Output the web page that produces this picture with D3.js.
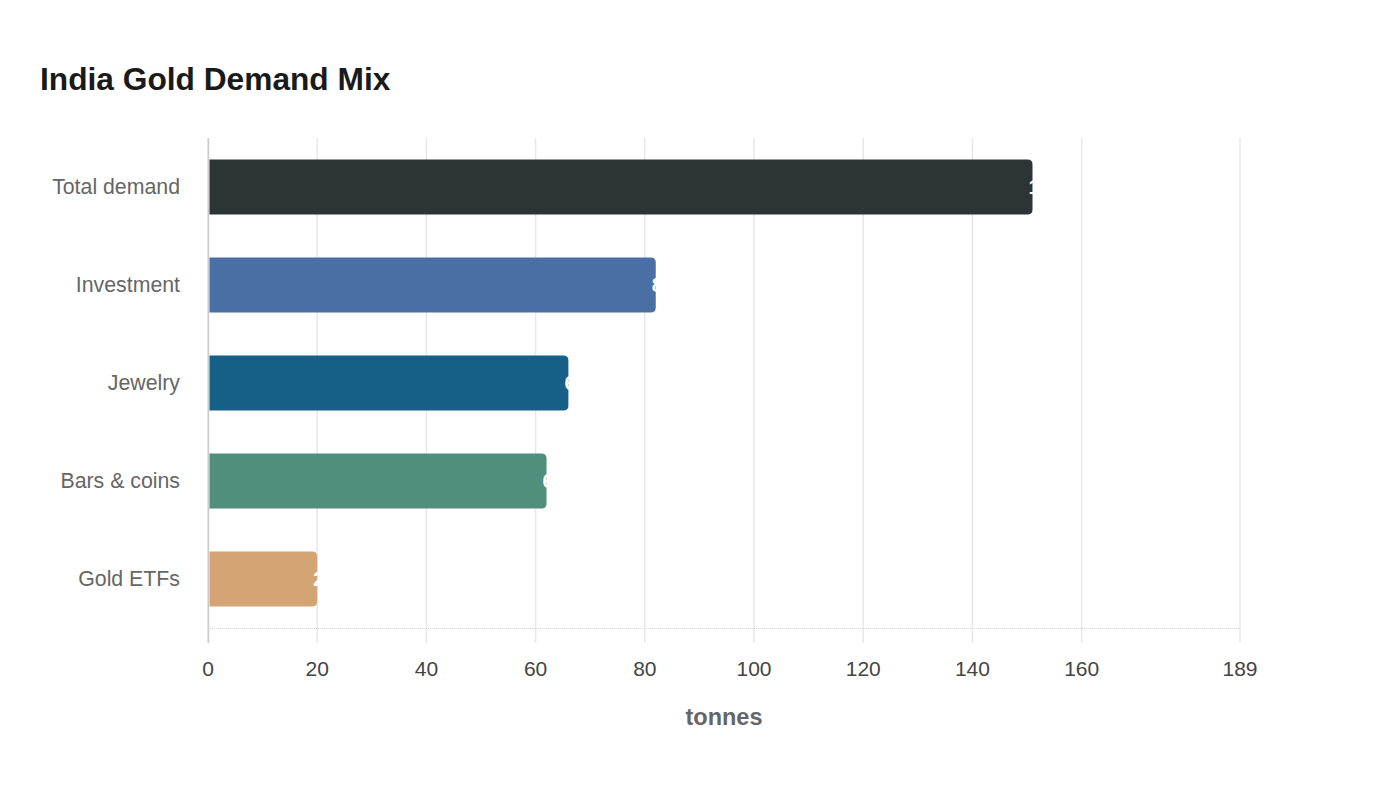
<!DOCTYPE html>
<html>
<head>
<meta charset="utf-8">
<script src="https://cdn.jsdelivr.net/npm/d3@7"></script>
<style>
    body { margin: 0; background: #fff; }
    svg { font-family: "Liberation Sans", Arial, sans-serif; }
</style>
</head>
<body>
<div id="chart"></div>
<script>
// data
const categories = ['Total demand', 'Investment', 'Jewelry', 'Bars & coins', 'Gold ETFs'];
const values = [151, 82, 66, 62, 20];
const colors = ['#2d3436', '#4a6fa5', '#166088', '#4f8f7c', '#d4a574'];
const xTicks = [0, 20, 40, 60, 80, 100, 120, 140, 160, 189];
const xMax = 189;

const width = 1400;
const height = 800;
const margin = {top: 138, right: 160, bottom: 172, left: 208};
const graphWidth = width - margin.left - margin.right;
const graphHeight = height - margin.top - margin.bottom;

const svg = d3.select('#chart').append('svg')
    .attr('width', width)
    .attr('height', height);

svg.append('text')
    .attr('x', 40)
    .attr('y', 90)
    .attr('font-size', 31.7)
    .attr('font-weight', 'bold')
    .attr('fill', '#1a1a1a')
    .text('India Gold Demand Mix');

const g = svg.append('g').attr('transform', `translate(${margin.left}, ${margin.top})`);

const xFun = d3.scaleLinear().domain([0, xMax]).range([0, graphWidth]);
const yFun = d3.scaleBand().domain(categories).range([0, graphHeight]).paddingInner(0.44).paddingOuter(0.22);

// vertical grid, running past the axis line like tick marks
g.append('g').selectAll('line')
    .data(xTicks)
    .join('line')
    .attr('x1', d => xFun(d))
    .attr('x2', d => xFun(d))
    .attr('y1', 0)
    .attr('y2', graphHeight + 15)
    .attr('stroke', '#e8e8e8')
    .attr('stroke-width', 1.5);

// bottom axis line (dotted light)
g.append('line')
    .attr('x1', 0)
    .attr('x2', graphWidth)
    .attr('y1', graphHeight + 0.5)
    .attr('y2', graphHeight + 0.5)
    .attr('stroke', '#d8d8d8')
    .attr('stroke-dasharray', '1,1');

// left axis line
g.append('line')
    .attr('x1', 0.5)
    .attr('x2', 0.5)
    .attr('y1', 0)
    .attr('y2', graphHeight + 15)
    .attr('stroke', '#cccccc')
    .attr('stroke-width', 1.5);

// x tick labels
g.append('g').selectAll('text')
    .data(xTicks)
    .join('text')
    .attr('x', d => xFun(d))
    .attr('y', graphHeight + 48)
    .attr('text-anchor', 'middle')
    .attr('font-size', 21)
    .attr('fill', '#444')
    .text(d => d);

// y category labels
g.append('g').selectAll('text')
    .data(categories)
    .join('text')
    .attr('x', -28)
    .attr('y', d => yFun(d) + yFun.bandwidth() / 2)
    .attr('dy', '0.35em')
    .attr('text-anchor', 'end')
    .attr('font-size', 21.3)
    .attr('fill', '#666')
    .text(d => d);

// bars with rounded right corners
const barPath = (x0, x1, y0, h, r) => {
    const rr = Math.min(r, (x1 - x0) / 2, h / 2);
    return `M${x0},${y0}H${x1 - rr}Q${x1},${y0} ${x1},${y0 + rr}V${y0 + h - rr}Q${x1},${y0 + h} ${x1 - rr},${y0 + h}H${x0}Z`;
};

const bars = g.append('g');
categories.forEach((cat, i) => {
    bars.append('path')
        .attr('d', barPath(1.5, xFun(values[i]), yFun(cat), yFun.bandwidth(), 5))
        .attr('fill', colors[i]);
});

// value labels (white, start at bar end)
g.append('g').selectAll('text')
    .data(categories)
    .join('text')
    .attr('x', (d, i) => xFun(values[i]) - 4)
    .attr('y', d => yFun(d) + yFun.bandwidth() / 2)
    .attr('dy', '0.35em')
    .attr('font-size', 20)
    .attr('font-weight', 'bold')
    .attr('fill', '#fff')
    .text((d, i) => values[i]);

// axis title
svg.append('text')
    .attr('x', margin.left + graphWidth / 2)
    .attr('y', 725)
    .attr('text-anchor', 'middle')
    .attr('font-size', 23.5)
    .attr('font-weight', 'bold')
    .attr('fill', '#666')
    .text('tonnes');
</script>
</body>
</html>
